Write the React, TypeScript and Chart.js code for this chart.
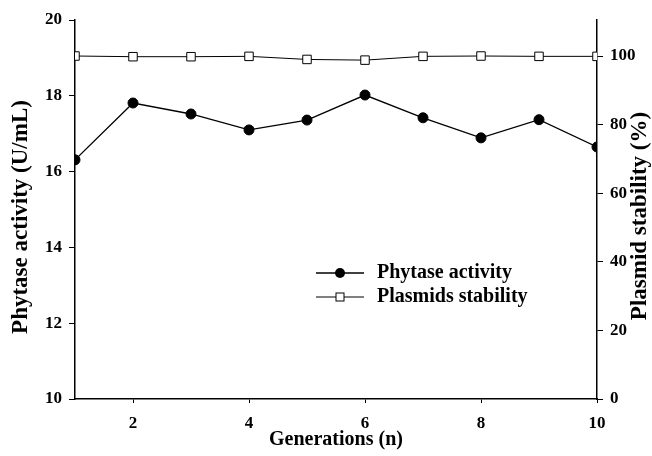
import React, { useEffect, useRef } from "react";
import { Chart, registerables } from "chart.js";

Chart.register(...registerables);

const generations = [1, 2, 3, 4, 5, 6, 7, 8, 9, 10];
const phytaseActivity = [16.31, 17.81, 17.52, 17.1, 17.36, 18.02, 17.42, 16.89, 17.37, 16.65];
const plasmidStability = [100, 99.8, 99.8, 99.9, 99.0, 98.8, 99.9, 100, 99.9, 99.9];
const xTickValues = [2, 4, 6, 8, 10];
const leftTickValues = [10, 12, 14, 16, 18, 20];
const rightTickValues = [0, 20, 40, 60, 80, 100];
const seriesNames = ["Phytase activity", "Plasmids stability"];
const xTitle = "Generations (n)";
const leftTitle = "Phytase activity (U/mL)";
const rightTitle = "Plasmid stability (%)";

const FONT = "'Liberation Serif', 'Times New Roman', serif";

const overlayPlugin = {
  id: "overlay",
  afterDraw(chart: any) {
    const ctx = chart.ctx as CanvasRenderingContext2D;
    const area = chart.chartArea;
    const cx = (area.left + area.right) / 2;
    ctx.save();
    ctx.fillStyle = "#000";
    ctx.textAlign = "center";
    ctx.textBaseline = "alphabetic";
    ctx.font = `bold 20px ${FONT}`;
    ctx.fillText(xTitle, cx, 445);

    ctx.textBaseline = "middle";
    ctx.font = `bold 23px ${FONT}`;
    ctx.save();
    ctx.translate(21, 217);
    ctx.rotate(-Math.PI / 2);
    ctx.fillText(leftTitle, 0, 0);
    ctx.restore();
    ctx.save();
    ctx.translate(640, 216);
    ctx.rotate(-Math.PI / 2);
    ctx.fillText(rightTitle, 0, 0);
    ctx.restore();

    // legend
    const lx0 = 316, lx1 = 364, mx = 340, tx = 377;
    const rows = [273, 297];
    ctx.strokeStyle = "#000";
    ctx.lineWidth = 1.3;
    ctx.beginPath();
    ctx.moveTo(lx0, rows[0]);
    ctx.lineTo(lx1, rows[0]);
    ctx.stroke();
    ctx.beginPath();
    ctx.arc(mx, rows[0], 5, 0, Math.PI * 2);
    ctx.fill();
    ctx.lineWidth = 1;
    ctx.beginPath();
    ctx.moveTo(lx0, rows[1]);
    ctx.lineTo(lx1, rows[1]);
    ctx.stroke();
    ctx.fillStyle = "#fff";
    ctx.fillRect(mx - 4, rows[1] - 4, 8, 8);
    ctx.strokeRect(mx - 4, rows[1] - 4, 8, 8);
    ctx.fillStyle = "#000";
    ctx.textAlign = "left";
    ctx.textBaseline = "middle";
    ctx.font = `bold 20px ${FONT}`;
    ctx.fillText(seriesNames[0], tx, rows[0]);
    ctx.fillText(seriesNames[1], tx, rows[1]);
    ctx.restore();
  },
};

export default function App() {
  const ref = useRef<HTMLCanvasElement>(null);
  useEffect(() => {
    if (!ref.current) return;
    const tickFont = { family: FONT, size: 17, weight: "bold" as const };
    const chart = new Chart(ref.current, {
      type: "line",
      data: {
        datasets: [
          {
            label: seriesNames[0],
            data: generations.map((g, i) => ({ x: g, y: phytaseActivity[i] })),
            yAxisID: "y",
            borderColor: "#000",
            borderWidth: 1.3,
            pointStyle: "circle",
            pointRadius: 5,
            pointBackgroundColor: "#000",
            pointBorderColor: "#000",
            pointBorderWidth: 1,
            tension: 0,
          },
          {
            label: seriesNames[1],
            data: generations.map((g, i) => ({ x: g, y: plasmidStability[i] })),
            yAxisID: "y1",
            borderColor: "#000",
            borderWidth: 1,
            pointStyle: "rect",
            pointRadius: 6,
            pointBackgroundColor: "#fff",
            pointBorderColor: "#000",
            pointBorderWidth: 1,
            tension: 0,
          },
        ],
      },
      options: {
        responsive: false,
        animation: false,
        layout: { padding: { top: 20, left: 0, right: 0, bottom: 0 } },
        plugins: { legend: { display: false }, tooltip: { enabled: false } },
        scales: {
          x: {
            type: "linear",
            min: 1,
            max: 10,
            afterBuildTicks: (s: any) => {
              s.ticks = xTickValues.map((v) => ({ value: v }));
            },
            afterFit: (s: any) => {
              s.height = 57;
            },
            grid: { drawOnChartArea: false, drawTicks: true, tickLength: 4, color: "#000", lineWidth: 1 },
            border: { display: true, color: "#000", width: 1.5 },
            ticks: { font: tickFont, color: "#000", padding: 10, maxRotation: 0 },
          },
          y: {
            type: "linear",
            position: "left",
            min: 10,
            max: 20,
            afterBuildTicks: (s: any) => {
              s.ticks = leftTickValues.map((v) => ({ value: v }));
            },
            afterFit: (s: any) => {
              s.width = 75;
            },
            grid: { drawOnChartArea: false, drawTicks: true, tickLength: 6, color: "#000", lineWidth: 1 },
            border: { display: true, color: "#000", width: 1.5 },
            ticks: { font: tickFont, color: "#000", padding: 7 },
          },
          y1: {
            type: "linear",
            position: "right",
            min: 0,
            max: 110.5,
            afterBuildTicks: (s: any) => {
              s.ticks = rightTickValues.map((v) => ({ value: v }));
            },
            afterFit: (s: any) => {
              s.width = 55;
            },
            grid: { drawOnChartArea: false, drawTicks: true, tickLength: 6, color: "#000", lineWidth: 1 },
            border: { display: true, color: "#000", width: 1.5 },
            ticks: { font: tickFont, color: "#000", padding: 7 },
          },
        },
      },
      plugins: [overlayPlugin],
    });
    return () => chart.destroy();
  }, []);
  return (
    <div style={{ position: "fixed", left: 0, top: 0, width: 652, height: 456, background: "#fff" }}>
      <canvas ref={ref} width={652} height={456} style={{ width: 652, height: 456, display: "block" }} />
    </div>
  );
}
